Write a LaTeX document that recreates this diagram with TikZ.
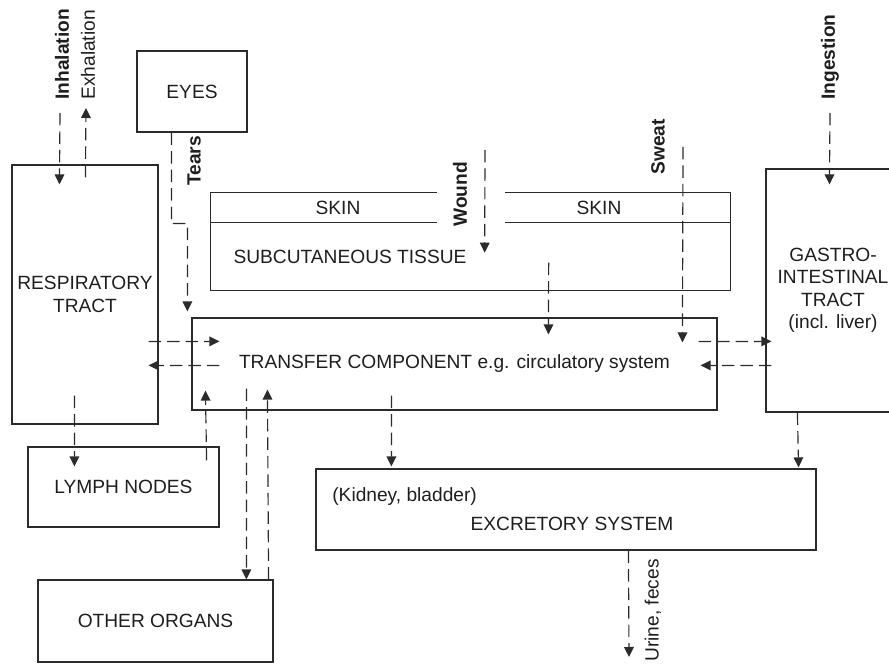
\documentclass[tikz,border=0pt]{standalone}
\usepackage{fontspec}
\setmainfont{Liberation Sans}
\usetikzlibrary{arrows.meta, calc}
\definecolor{cLine}{HTML}{2B2B2B}
\definecolor{cText}{HTML}{1E1E1E}
\tikzset{
    txt/.style  ={font=\fontsize{11.5}{13.5}\selectfont, text=cText, inner sep=0pt},
    box/.style  ={txt, draw=cLine, line width=0.7pt, align=center},
    tag/.style  ={txt, rotate=90},
    bold/.style ={font=\fontsize{11.5}{13.5}\selectfont\bfseries},
    flow/.style ={-{Triangle[length=6pt, width=5.8pt]}, line width=0.7pt, cLine,
                  dash pattern=on 7.5pt off 3.6pt},
}

\begin{document}
\begin{tikzpicture}[x=0.6pt, y=-0.6pt]
\useasboundingbox (0,0) rectangle (889,665);

% ===================== Organos =====================
\node[box, minimum width=87.6pt, minimum height=155.4pt] (resp) at (85,294.5)
     {RESPIRATORY\\TRACT};
\node[box, minimum width=66pt, minimum height=48.6pt] (eyes) at (192,91.5) {EYES};
\node[box, minimum width=315pt, minimum height=55.2pt] (trans) at (454.5,364)
     {TRANSFER COMPONENT e.g. circulatory system};
\node[box, minimum width=80.4pt, minimum height=145.8pt] (gi) at (833,290.5)
     {GASTRO-\\INTESTINAL\\TRACT\\(incl. liver)};
\node[box, minimum width=114.6pt, minimum height=48pt] (lymph) at (123.5,487) {LYMPH NODES};
\node[box, minimum width=141pt, minimum height=49.2pt] (other) at (155.5,621) {OTHER ORGANS};
\node[box, minimum width=300pt, minimum height=48.6pt] (excr) at (566,509.5) {};
\node[txt, anchor=west] (kid) at (332,497) {(Kidney, bladder)};
\node[txt] (exname) at (572,524) {EXCRETORY SYSTEM};

% ===================== Piel, con hueco para la herida =====================
\node[minimum width=311.4pt, minimum height=58.2pt] (skin) at (470.5,241.5) {};
\draw[line width=0.7pt, cLine] ($(skin.north west)+(226,0)$) -- (skin.north west)
     -- (skin.south west) -- (skin.south east) -- (skin.north east)
     -- ($(skin.north east)+(-225,0)$);
\draw[line width=0.7pt, cLine] ($(skin.north west)+(0,30)$) -- ++(226,0);
\draw[line width=0.7pt, cLine] ($(skin.north east)+(0,30)$) -- ++(-225,0);
\node[txt] (skinl) at (338,208) {SKIN};
\node[txt] (skinr) at (599,208) {SKIN};
\node[txt] (subc) at (350,257) {SUBCUTANEOUS TISSUE};

% ===================== Vias de entrada y salida =====================
\coordinate (inh) at (60,113);
\coordinate (exh) at (86,108);
\coordinate (wnd) at (485,150);
\coordinate (swt) at (683,147);
\coordinate (ing) at (830,113);
\coordinate (urn) at (629,657);

\draw[flow] (inh) -- ($(resp.north west)+(48,20)$);
\node[tag, bold, anchor=west] at (62,100) {Inhalation};
\draw[flow] ($(resp.north west)+(74,13)$) -- (exh);
\node[tag, anchor=west] at (88,100) {Exhalation};

\draw[flow, shorten >=3.6pt] ($(eyes.south west)+(35,0)$) |- ++(16,91)
      -- ($(trans.north west)+(-4,0)$);
\node[tag, bold, anchor=west] at (194,186) {Tears};

\draw[flow] (wnd) -- ($(skin.north west)+(274,60)$);
\node[tag, bold, anchor=west] at (460,227) {Wound};

\draw[flow] (swt) -- ($(trans.north west)+(491,25)$);
\node[tag, bold, anchor=west] at (658,175) {Sweat};

\draw[flow] (ing) -- ($(gi.north west)+(64,16)$);
\node[tag, bold, anchor=west] at (830,100) {Ingestion};

\draw[flow] ($(excr.south west)+(313,0)$) -- (urn);
\node[tag, anchor=east] at (653,559) {Urine, feces};

% ===================== Intercambio con el componente de transferencia =====================
\draw[flow] ($(skin.north west)+(338,70)$) -- ($(trans.north west)+(357,17)$);
\draw[flow] ($(resp.north east)+(-10,177)$) -- ($(trans.north west)+(28,24)$);
\draw[flow] ($(trans.north west)+(28,48)$) -- ($(resp.north east)+(-10,201)$);
\draw[flow] ($(trans.north east)+(-19,24)$) -- ($(gi.north west)+(6,173)$);
\draw[flow] ($(gi.north west)+(6,197)$) -- ($(trans.north east)+(-17,48)$);

\draw[flow] ($(resp.south west)+(63,-29)$) -- ($(lymph.north west)+(47,20)$);
\draw[flow] ($(lymph.north east)+(-13,14)$) -- ($(trans.south west)+(14,-20)$);
\draw[flow] ($(trans.south west)+(55,-22)$) -- ($(other.north west)+(209,0)$);
\draw[flow] ($(other.north east)+(-5,0)$) -- ($(trans.south west)+(76,-21)$);
\draw[flow] ($(trans.south west)+(200,-15)$) -- ($(excr.north west)+(76,-2)$);
\draw[flow] ($(gi.south west)+(32,0)$) -- ($(excr.north east)+(-18,-1)$);

\end{tikzpicture}
\end{document}
